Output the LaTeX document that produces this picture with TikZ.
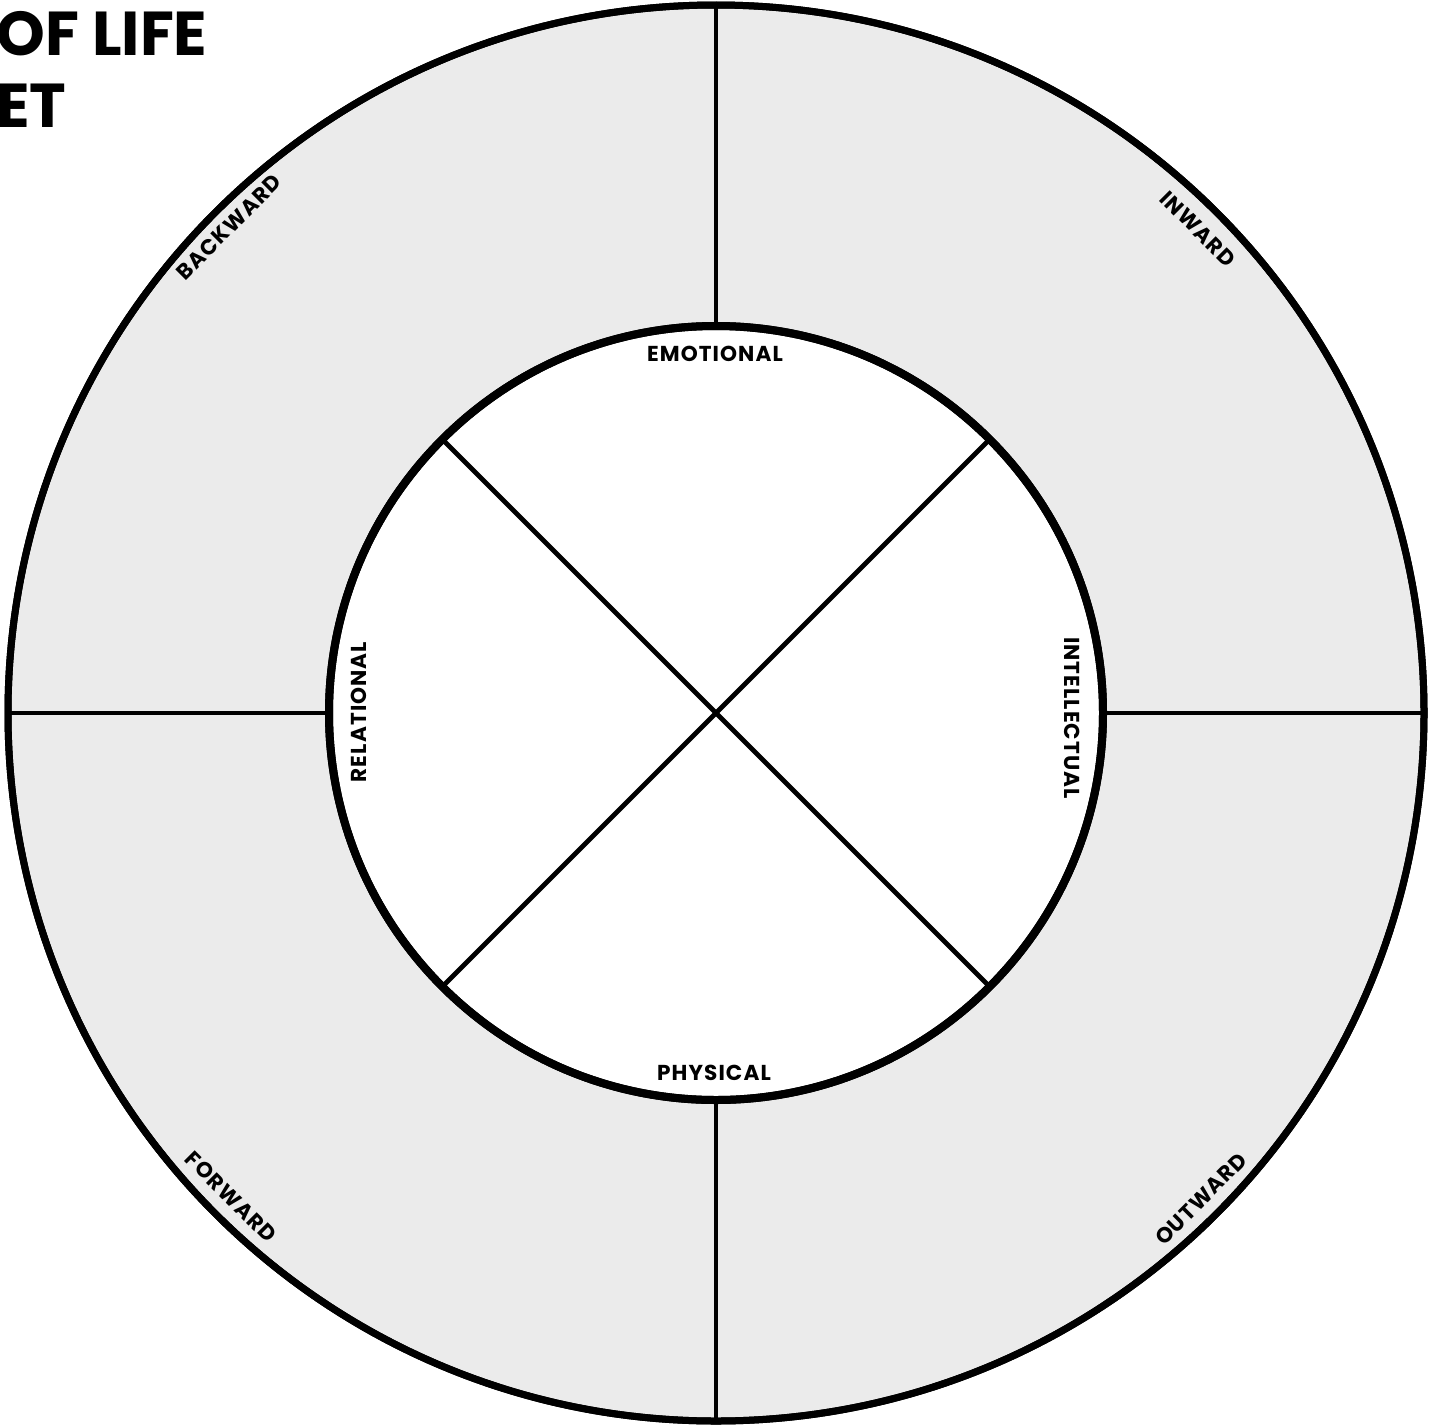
\documentclass[tikz,border=0pt]{standalone}
\usepackage{fontspec}
\setmainfont{Poppins}
\newfontfamily\labelfont[LetterSpace=5]{Poppins}
\definecolor{ringgray}{HTML}{EBEBEB}
\begin{document}
\begin{tikzpicture}[x=0.5pt,y=-0.5pt,
  ring/.style={circle,draw=black,outer sep=0pt,inner sep=0pt},
  divider/.style={draw=black,line width=2.4pt},
  seglabel/.style={font=\labelfont\bfseries\fontsize{10.8pt}{12pt}\selectfont,inner sep=0pt},
  titletext/.style={font=\bfseries\fontsize{31pt}{36pt}\selectfont,anchor=west,inner sep=0pt}]
\useasboundingbox[fill=white] (0,0) rectangle (1429,1424);
\coordinate (c) at (716,713);
% fills
\fill[ringgray] (c) circle[radius=354pt];
\fill[white] (c) circle[radius=193.5pt];
% ring nodes
\node[ring,minimum size=708pt,line width=3.5pt] (outer) at (c) {};
\node[ring,minimum size=387pt,line width=4pt] (inner) at (c) {};
% dividers in ring
\draw[divider] (inner.north) -- (outer.north);
\draw[divider] (inner.south) -- (outer.south);
\draw[divider] (inner.west) -- (outer.west);
\draw[divider] (inner.east) -- (outer.east);
% diagonals in inner circle
\draw[divider] (inner.north west) -- (inner.south east);
\draw[divider] (inner.north east) -- (inner.south west);
% redraw circles on top
\draw[line width=3.5pt] (c) circle[radius=354pt];
\draw[line width=4pt] (c) circle[radius=193.5pt];
% inner labels
\node[seglabel] (emo) at (715,354) {EMOTIONAL};
\node[seglabel] (phy) at (714,1073) {PHYSICAL};
\node[seglabel,rotate=90] (rel) at (359,712) {RELATIONAL};
\node[seglabel,rotate=-90] (int) at (1072,718) {INTELLECTUAL};
% outer labels
\node[seglabel,rotate=45] (back) at (229,227) {BACKWARD};
\node[seglabel,rotate=-45] (inw) at (1198,229) {INWARD};
\node[seglabel,rotate=-45] (forw) at (231,1197) {FORWARD};
\node[seglabel,rotate=45] (outw) at (1201,1199) {OUTWARD};
% title (clipped at left edge)
\node[titletext] (t1) at (-4,34) {OF LIFE};
\node[titletext] (t2) at (-4,106) {ET};
\end{tikzpicture}
\end{document}
